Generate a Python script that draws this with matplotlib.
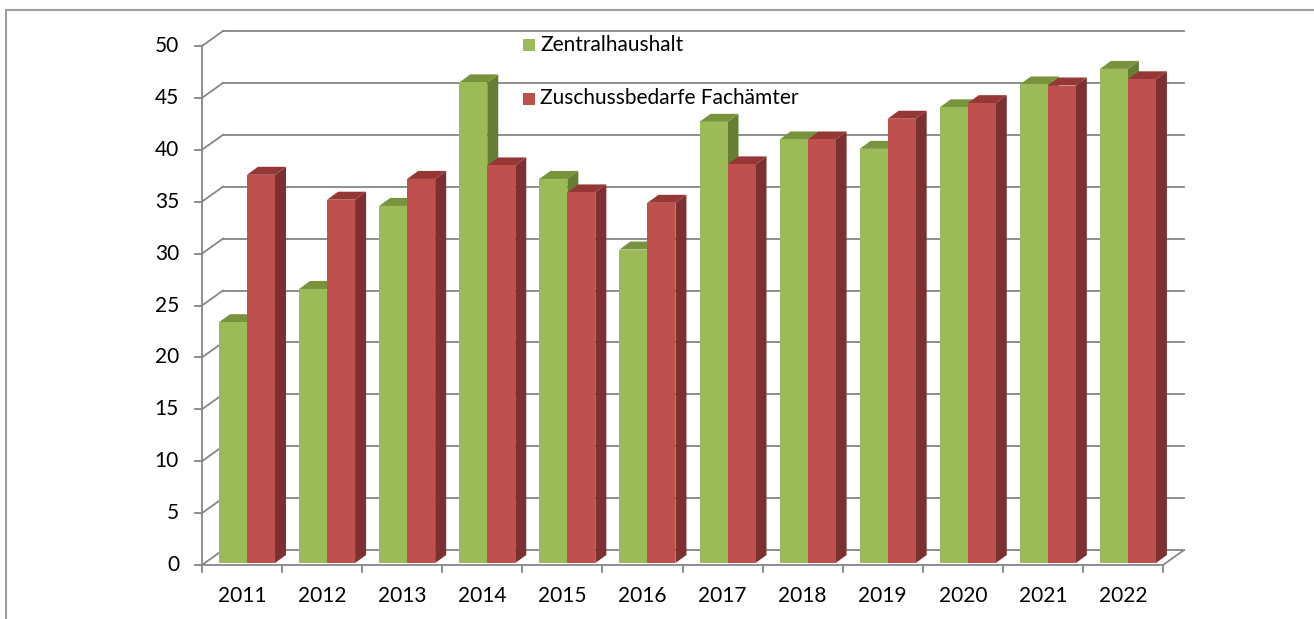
import matplotlib
matplotlib.use("Agg")
import matplotlib.pyplot as plt
from matplotlib.patches import Polygon, Rectangle
from matplotlib.lines import Line2D

# ---- data ----
years = ["2011", "2012", "2013", "2014", "2015", "2016",
         "2017", "2018", "2019", "2020", "2021", "2022"]
zentral = [23.2, 26.4, 34.4, 46.3, 37.0, 30.2, 42.5, 40.8, 39.9, 43.9, 46.1, 47.6]
fachaemter = [37.4, 35.0, 37.0, 38.3, 35.7, 34.7, 38.4, 40.8, 42.8, 44.3, 46.0, 46.6]
series_names = ["Zentralhaushalt", "Zuschussbedarfe Fachämter"]
yticks = list(range(0, 55, 5))

# ---- style ----
W, H = 1314, 619
FONT = ["Lato", "DejaVu Sans"]
GRID = "#868686"
green = ("#9BBB59", "#77933C", "#657E33")   # front, top, side
red = ("#C0504D", "#953735", "#7C302F")

fig = plt.figure(figsize=(W / 100, H / 100), dpi=100)
fig.patch.set_facecolor("white")

# plot area (front plane) in pixels
x0p, x1p = 202, 1163
y0p, y50p = 565, 46
ax = fig.add_axes([x0p / W, (H - y0p) / H, (x1p - x0p) / W, (y0p - y50p) / H])
ncat = len(years)
ax.set_xlim(0, ncat)
ax.set_ylim(0, 50)
ax.axis("off")

pxx = (x1p - x0p) / ncat      # pixels per x unit
pxy = (y0p - y50p) / 50.0     # pixels per y unit

# depth of the floor and of the bars (pixels -> data units)
Dx, Dy = 21 / pxx, 15 / pxy
dx, dy = 11 / pxx, 8 / pxy
base = 2 / pxy

# outer border (top and left lines)
fig.add_artist(Line2D([6 / W, 1], [1 - 10 / H, 1 - 10 / H], color="#A0A0A0", lw=1.5,
                      transform=fig.transFigure))
fig.add_artist(Line2D([6 / W, 6 / W], [0, 1 - 10 / H], color="#A0A0A0", lw=1.5,
                      transform=fig.transFigure))

lw = 1.3
# back wall gridlines + left wall diagonals
for v in yticks:
    ax.plot([Dx, ncat + Dx], [v + Dy, v + Dy], color=GRID, lw=lw, clip_on=False, zorder=1)
    ax.plot([0, Dx], [v, v + Dy], color=GRID, lw=lw, clip_on=False, zorder=1)
    ax.plot([-7 / pxx, 0], [v, v], color=GRID, lw=lw, clip_on=False, zorder=1)
    ax.text(-23 / pxx, v, str(v), ha="right", va="center", fontsize=15,
            family=FONT, color="black", clip_on=False)
# front vertical axis
ax.plot([0, 0], [0, 50], color=GRID, lw=lw, clip_on=False, zorder=1)
# floor
ax.plot([0, ncat], [0, 0], color=GRID, lw=lw, clip_on=False, zorder=1)
ax.plot([ncat, ncat + Dx], [0, Dy], color=GRID, lw=lw, clip_on=False, zorder=1)
for i in range(ncat + 1):
    ax.plot([i, i], [0, -7 / pxy], color=GRID, lw=lw, clip_on=False, zorder=1)
for i, y in enumerate(years):
    ax.text(i + 0.5, -31 / pxy, y, ha="center", va="center", fontsize=15,
            family=FONT, color="black", clip_on=False)

# bars
bw = 28 / pxx
off = 17 / pxx


def bar3d(xl, val, cols, z):
    xr = xl + bw
    top = base + val
    ax.add_patch(Polygon([(xr, base), (xr, top), (xr + dx, top + dy), (xr + dx, base + dy)],
                         closed=True, facecolor=cols[2], edgecolor="none", zorder=z, clip_on=False))
    ax.add_patch(Polygon([(xl, top), (xr, top), (xr + dx, top + dy), (xl + dx, top + dy)],
                         closed=True, facecolor=cols[1], edgecolor="none", zorder=z, clip_on=False))
    ax.add_patch(Rectangle((xl, base), bw, val, facecolor=cols[0], edgecolor="none",
                           zorder=z, clip_on=False))


for i in range(ncat):
    bar3d(i + off, zentral[i], green, 3 + 2 * i)
    bar3d(i + off + bw, fachaemter[i], red, 4 + 2 * i)

# legend
for k, (name, col) in enumerate(zip(series_names, [green[0], red[0]])):
    cy = 45 + k * 53.5
    fig.add_artist(Rectangle((523 / W, 1 - (cy + 6) / H), 12 / W, 12 / H,
                             facecolor=col, edgecolor="none", transform=fig.transFigure))
    fig.text(540 / W, 1 - cy / H, name, ha="left", va="center", fontsize=15,
             family=FONT, color="black")

fig.savefig("out.png", dpi=100, facecolor="white")
